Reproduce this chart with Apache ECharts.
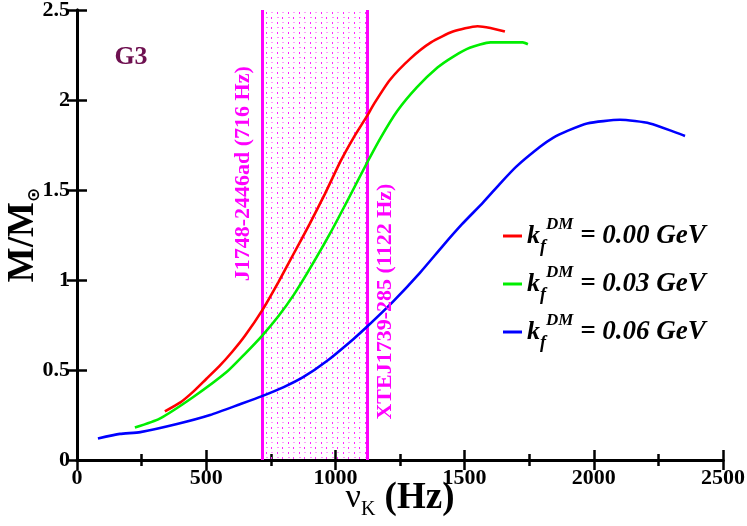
<!DOCTYPE html>
<html><head><meta charset="utf-8">
<script src="https://cdn.jsdelivr.net/npm/echarts@6/dist/echarts.min.js"></script>
<style>html,body{margin:0;padding:0;background:#fff}#c{width:747px;height:526px}</style>
</head><body><div id="c"></div>
<script>
// ---- data ----
const xTicks = [0, 500, 1000, 1500, 2000, 2500];
const yTicks = [0, 0.5, 1, 1.5, 2, 2.5];
const seriesNames = ['0.00', '0.03', '0.06'];
const seriesColors = ['#ff0000', '#00ee00', '#0000ff'];
const redX = [340, 400, 450, 500, 550, 600, 650, 716, 780, 840, 900, 960, 1020, 1070, 1122, 1150, 1210, 1290, 1370, 1455, 1550, 1600, 1656];
const redY = [0.27, 0.32, 0.38, 0.45, 0.52, 0.60, 0.69, 0.83, 0.99, 1.15, 1.31, 1.48, 1.66, 1.79, 1.91, 1.98, 2.11, 2.23, 2.32, 2.38, 2.41, 2.40, 2.38];
const greenX = [224, 320, 450, 580, 650, 716, 780, 840, 900, 980, 1050, 1122, 1175, 1240, 1315, 1395, 1455, 1520, 1600, 1725, 1745];
const greenY = [0.18, 0.23, 0.35, 0.49, 0.59, 0.69, 0.80, 0.92, 1.06, 1.26, 1.45, 1.65, 1.79, 1.94, 2.07, 2.18, 2.24, 2.29, 2.32, 2.32, 2.31];
const blueX = [81, 166, 245, 387, 515, 631, 716, 800, 875, 967, 1068, 1122, 1223, 1327, 1416, 1490, 1571, 1640, 1700, 1792, 1842, 1900, 1974, 2101, 2217, 2353];
const blueY = [0.12, 0.145, 0.155, 0.20, 0.25, 0.31, 0.355, 0.405, 0.46, 0.55, 0.67, 0.74, 0.88, 1.04, 1.19, 1.31, 1.43, 1.54, 1.63, 1.74, 1.79, 1.83, 1.87, 1.89, 1.87, 1.80];
const bandEdges = [716, 1122];
const bandLabels = ['J1748-2446ad (716 Hz)', 'XTEJ1739-285 (1122 Hz)'];
const bandLabelY = [1.59, 0.88];
const panelLabel = 'G3';
const panelLabelPos = [209, 2.24];

const zip = (xs, ys) => xs.map((x, i) => [x, ys[i]]);
const seriesData = [zip(redX, redY), zip(greenX, greenY), zip(blueX, blueY)];

// dotted pattern
const pc = document.createElement('canvas');
pc.width = 11; pc.height = 10;
const pctx = pc.getContext('2d');
pctx.fillStyle = '#ff22ff'; pctx.fillRect(2, 2, 1, 2);
pctx.fillStyle = '#ffa0ff'; pctx.fillRect(7, 2, 2, 1);
pctx.fillStyle = '#ff88ff'; pctx.fillRect(2, 7, 2, 1);
pctx.fillStyle = '#ff22ff'; pctx.fillRect(7, 7, 1, 2);

const FF = 'Liberation Serif';
const chart = echarts.init(document.getElementById('c'), null, {renderer: 'canvas'});

const axisCommon = {
  min: 0, max: 2500, interval: 500,
  axisLine: {show: true, lineStyle: {color: '#000', width: 3}},
  axisTick: {show: true, inside: true, length: 10, lineStyle: {color: '#000', width: 2.5}},
  minorTick: {show: true, splitNumber: 2, length: 6, lineStyle: {color: '#000', width: 2.5}},
  splitLine: {show: false}
};
const yCommon = {
  min: 0, max: 2.5, interval: 0.5,
  axisLine: {show: true, lineStyle: {color: '#000', width: 3}},
  axisTick: {show: true, inside: true, length: 10, lineStyle: {color: '#000', width: 2.5}},
  splitLine: {show: false}
};

const legendRich = {
  k: {fontFamily: FF, fontWeight: 'bold', fontStyle: 'italic', fontSize: 26, lineHeight: 40, verticalAlign: 'middle', color: '#000'},
  f: {fontFamily: FF, fontWeight: 'bold', fontStyle: 'italic', fontSize: 18, lineHeight: 8, verticalAlign: 'bottom', color: '#000'},
  dm: {fontFamily: FF, fontWeight: 'bold', fontStyle: 'italic', fontSize: 17, lineHeight: 18, verticalAlign: 'top', color: '#000'},
  eq: {fontFamily: FF, fontWeight: 'bold', fontStyle: 'italic', fontSize: 27, lineHeight: 40, verticalAlign: 'middle', color: '#000'}
};

const option = {
  animation: false,
  backgroundColor: '#fff',
  grid: {left: 77, right: 24, top: 10, bottom: 66, containLabel: false, outerBoundsMode: 'none'},
  xAxis: [
    Object.assign({}, axisCommon, {
      type: 'value', position: 'bottom',
      axisLabel: {show: true, margin: 7, color: '#000', fontFamily: FF, fontWeight: 'bold', fontSize: 22,
        formatter: v => xTicks.includes(v) ? String(v) : ''},
      name: '{nu|ν}{k|K}{hz| (Hz)}', nameLocation: 'middle', nameGap: 16, nameMoveOverlap: false,
      nameTextStyle: {rich: {
        nu: {fontFamily: FF, fontSize: 34, lineHeight: 44, verticalAlign: 'middle', color: '#000'},
        k: {fontFamily: FF, fontSize: 20, lineHeight: 16, verticalAlign: 'bottom', color: '#000'},
        hz: {fontFamily: FF, fontWeight: 'bold', fontSize: 37, lineHeight: 44, verticalAlign: 'middle', color: '#000'}
      }}
    }),
    Object.assign({}, axisCommon, {type: 'value', position: 'top', axisLabel: {show: false}})
  ],
  yAxis: [
    Object.assign({}, yCommon, {
      type: 'value', position: 'left',
      axisLabel: {show: true, margin: 7, color: '#000', fontFamily: FF, fontWeight: 'bold', fontSize: 22,
        formatter: v => yTicks.includes(v) ? String(v) : ''},
      name: '{m|M/M}{s|⊙}', nameLocation: 'middle', nameGap: 34, nameRotate: 90, nameMoveOverlap: false,
      nameTextStyle: {rich: {
        m: {fontFamily: FF, fontWeight: 'bold', fontSize: 37, lineHeight: 40, verticalAlign: 'middle', color: '#000'},
        s: {fontFamily: 'DejaVu Sans', fontWeight: 'bold', fontSize: 17, lineHeight: 12, verticalAlign: 'bottom', color: '#000'}
      }}
    }),
    Object.assign({}, yCommon, {type: 'value', position: 'right', axisLabel: {show: false}})
  ],
  legend: {
    show: true, orient: 'vertical', left: 498, top: 211, itemGap: 8,
    itemWidth: 19, itemHeight: 3, icon: 'rect', selectedMode: false,
    data: seriesNames,
    formatter: name => '{k|k}{f|f}{dm|DM}{eq| = ' + name + ' GeV}',
    textStyle: {rich: legendRich}
  },
  series: [
    {
      name: 'band', type: 'line', data: [], silent: true,
      markArea: {silent: true, itemStyle: {color: {image: pc, repeat: 'repeat'}},
        data: [[{xAxis: bandEdges[0]}, {xAxis: bandEdges[1]}]]},
      markLine: {silent: true, symbol: 'none', label: {show: false},
        lineStyle: {color: '#ff00ff', width: 3, type: 'solid'},
        data: bandEdges.map(x => ({xAxis: x}))}
    }
  ].concat(seriesNames.map((n, i) => ({
    name: n, type: 'line', data: seriesData[i], showSymbol: false, symbol: 'none',
    smooth: 0.2, z: 5,
    lineStyle: {color: seriesColors[i], width: 2.6},
    itemStyle: {color: seriesColors[i]}
  })))
};
chart.setOption(option);

const p1 = chart.convertToPixel({xAxisIndex: 0, yAxisIndex: 0}, [bandEdges[0], bandLabelY[0]]);
const p2 = chart.convertToPixel({xAxisIndex: 0, yAxisIndex: 0}, [bandEdges[1], bandLabelY[1]]);
const pg = chart.convertToPixel({xAxisIndex: 0, yAxisIndex: 0}, panelLabelPos);
chart.setOption({graphic: [
  {type: 'text', x: p1[0] - 19, y: p1[1], rotation: Math.PI / 2, z: 10,
    style: {text: bandLabels[0], fill: '#ff00ff', font: 'bold 22px "Liberation Serif"', align: 'center', verticalAlign: 'middle'}},
  {type: 'text', x: p2[0] + 18, y: p2[1], rotation: Math.PI / 2, z: 10,
    style: {text: bandLabels[1], fill: '#ff00ff', font: 'bold 22px "Liberation Serif"', align: 'center', verticalAlign: 'middle'}},
  {type: 'text', x: pg[0], y: pg[1], z: 10,
    style: {text: panelLabel, fill: '#6e1050', font: 'bold 26px "Liberation Serif"', align: 'center', verticalAlign: 'middle'}}
]});
</script></body></html>
